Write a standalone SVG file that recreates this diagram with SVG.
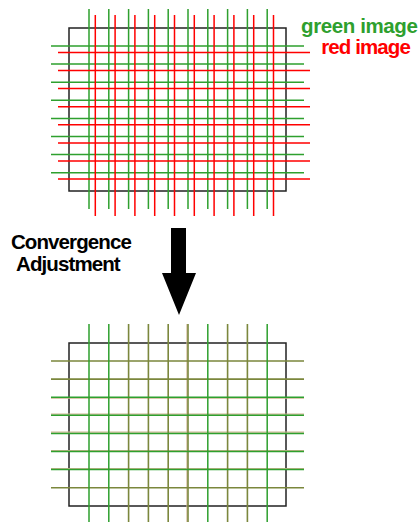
<svg xmlns="http://www.w3.org/2000/svg" width="419" height="522" viewBox="0 0 419 522">
<style>
.frame{fill:none;stroke:#222;stroke-width:1.5}
.g{stroke:#2ea02e;stroke-width:1.5;fill:none}
.r{stroke:#ff0000;stroke-width:1.5;fill:none}
.o{stroke:#7b873c;stroke-width:1.6;fill:none}
.t{stroke:#cdb592;stroke-width:1.2;fill:none}
.lbl{font-family:"Liberation Sans",Arial,sans-serif;font-weight:bold;font-size:20.5px;letter-spacing:-0.9px}
</style>
<rect width="419" height="522" fill="#fff"/>
<g id="before">
  <rect class="frame" x="69" y="28" width="217" height="163"/>
  <path class="g" d="M89 9V209M108.8 9V209M128.6 9V209M148.4 9V209M168.2 9V209M188 9V209M207.8 9V209M227.6 9V209M247.4 9V209M267.2 9V209"/>
  <path class="g" d="M51 46H304M51 64.1H304M51 82.2H304M51 100.3H304M51 118.4H304M51 136.5H304M51 154.6H304M51 172.7H304"/>
  <path class="r" d="M95.3 15V216M115.1 15V216M134.9 15V216M154.7 15V216M174.5 15V216M194.3 15V216M214.1 15V216M233.9 15V216M253.7 15V216M273.5 15V216"/>
  <path class="r" d="M58 52.4H310M58 70.5H310M58 88.6H310M58 106.7H310M58 124.8H310M58 142.9H310M58 161H310M58 179.1H310"/>
</g>
<g id="labels">
  <text class="lbl" x="417.4" y="33" text-anchor="end" fill="#2ea02e" style="letter-spacing:-0.4px">green image</text>
  <text class="lbl" x="409.9" y="54" text-anchor="end" fill="#ff0000">red image</text>
  <text class="lbl" x="70.9" y="249" text-anchor="middle" fill="#000">Convergence</text>
  <text class="lbl" x="67.9" y="270.7" text-anchor="middle" fill="#000">Adjustment</text>
</g>
<g id="connectors">
  <path d="M171 228H186V273H196L179 315L162 273H171Z" fill="#000"/>
</g>
<g id="after">
  <rect class="frame" x="69" y="343" width="217" height="163"/>
  <path class="t" d="M187 324V524M51 398.2H304M51 414.2H304M51 432.2H304M51 450.6H304M51 468.6H304"/>
  <path class="o" d="M128.6 324V524M148.4 324V524M168.2 324V524M188 324V524M227.6 324V524M247.4 324V524"/>
  <path class="o" d="M51 361H304M51 379.1H304M51 487.7H304"/>
  <path class="g" d="M89 324V524M108.8 324V524M207.8 324V524M267.2 324V524"/>
  <path class="g" d="M51 397.2H304M51 415.3H304M51 433.4H304M51 451.5H304M51 469.6H304"/>
</g>
</svg>
